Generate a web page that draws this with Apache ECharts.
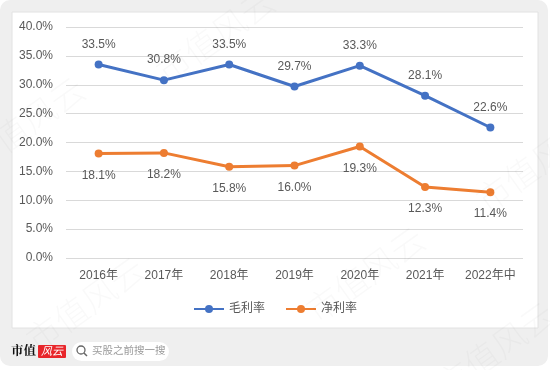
<!DOCTYPE html>
<html><head><meta charset="utf-8">
<script src="https://cdn.jsdelivr.net/npm/echarts@6/dist/echarts.min.js"></script>
<style>html,body{margin:0;padding:0;background:#fff}#c{width:550px;height:370px}</style>
</head><body><div id="c"></div>
<script>
const categories = ['2016年','2017年','2018年','2019年','2020年','2021年','2022年中'];
const grossMargin = [33.5, 30.8, 33.5, 29.7, 33.3, 28.1, 22.6];
const netMargin = [18.1, 18.2, 15.8, 16.0, 19.3, 12.3, 11.4];
const seriesNames = ['毛利率', '净利率'];

const FONT = '"Liberation Sans", "Noto Sans CJK SC", sans-serif';
const chart = echarts.init(document.getElementById('c'), null, {renderer: 'canvas'});

const wm = [];
const wmPos = [[150,62],[470,190],[20,330],[300,300],[430,375],[-40,150]];
wmPos.forEach(p => wm.push({type:'text', x:p[0], y:p[1], rotation: 0.62, z:100, silent:true,
  style:{text:'市值风云', fill:'rgba(0,0,0,0.022)', font:'300 34px "Noto Sans CJK SC"'}}));

chart.setOption({
  animation: false,
  textStyle: {fontFamily: FONT},
  graphic: [
    {type:'rect', z:-10, shape:{x:0,y:0,width:548,height:366,r:10}, style:{fill:'#efefef'}},
    {type:'rect', z:-9, shape:{x:12,y:12,width:526,height:316}, style:{fill:'#ffffff', stroke:'#e2e2e2', lineWidth:1}},
    {type:'text', x:11, y:344, z:5, style:{text:'市值', font:'bold 12.5px "Noto Serif CJK SC", "Noto Sans CJK SC"', fill:'#111'}},
    {type:'rect', x:38, y:345, z:5, shape:{width:28,height:13,r:1}, style:{fill:'#e8262b'}},
    {type:'text', x:41, y:345, z:6, style:{text:'风云', font:'italic 11px "Noto Sans CJK SC"', fill:'#fff'}},
    {type:'rect', x:72, y:342, z:5, shape:{width:97,height:19,r:9.5}, style:{fill:'#ffffff'}},
    {type:'circle', x:81, y:350, z:6, shape:{r:4}, style:{fill:'none', stroke:'#666', lineWidth:1.3}},
    {type:'line', z:6, shape:{x1:84,y1:353,x2:87,y2:356}, style:{stroke:'#666', lineWidth:1.5}},
    {type:'text', x:92, y:345, z:6, style:{text:'买股之前搜一搜', font:'10.5px "Noto Sans CJK SC"', fill:'#9a9a9a'}},
    ...wm
  ],
  grid: {left: 66, right: 27, top: 27, bottom: 112},
  legend: {
    data: seriesNames, top: 298, left: 'center', itemWidth: 30, itemHeight: 10, itemGap: 20,
    textStyle: {color: '#595959', fontSize: 12, fontFamily: FONT}
  },
  xAxis: {
    type: 'category', data: categories, boundaryGap: true,
    axisLine: {show: false}, axisTick: {show: false},
    axisLabel: {color: '#595959', fontSize: 12, margin: 12, interval: 0}
  },
  yAxis: {
    type: 'value', min: 0, max: 40, interval: 5,
    axisLine: {show: false}, axisTick: {show: false},
    axisLabel: {color: '#595959', fontSize: 12, margin: 13, formatter: v => v.toFixed(1) + '%'},
    splitLine: {lineStyle: {color: '#d9d9d9', width: 1}}
  },
  series: [
    {name: seriesNames[0], type: 'line', data: grossMargin, symbol: 'circle', symbolSize: 8,
     itemStyle: {color: '#4472c4'}, lineStyle: {width: 3, color: '#4472c4'},
     label: {show: true, position: 'top', distance: 10, color: '#595959', fontSize: 12, formatter: p => p.value.toFixed(1) + '%'}},
    {name: seriesNames[1], type: 'line', data: netMargin, symbol: 'circle', symbolSize: 8,
     itemStyle: {color: '#ed7d31'}, lineStyle: {width: 3, color: '#ed7d31'},
     label: {show: true, position: 'bottom', distance: 12, color: '#595959', fontSize: 12, formatter: p => p.value.toFixed(1) + '%'}}
  ]
});
</script></body></html>
